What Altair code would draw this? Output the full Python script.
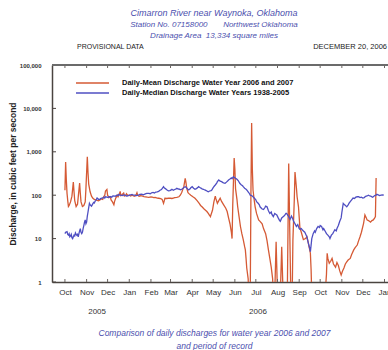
import altair as alt
import pandas as pd

# ---- Daily-mean discharge, water years 2006-2007 (days after 2005-10-01, cfs)
mean_days = [0, 1, 2, 3, 4, 5, 6, 8, 10, 12, 13, 14, 16, 18, 19, 21, 22, 23, 25, 27,
             29, 30, 32, 33, 34, 36, 38, 40, 42, 44, 46, 48, 50, 52, 54, 55, 57, 58, 60, 61,
             63, 65, 66, 68, 70, 71, 73, 75, 76, 78, 79, 80, 82, 84, 85, 87, 88, 90, 92, 94,
             96, 98, 100, 102, 103, 104, 106, 108, 110, 113, 115, 118, 120, 123, 125, 127, 129, 132, 134, 137,
             139, 140, 141, 142, 143, 146, 148, 151, 153, 155, 157, 160, 163, 165, 167, 170, 172, 173, 174, 176,
             177, 180, 183, 186, 189, 192, 194, 196, 199, 201, 203, 205, 207, 208, 209, 211, 213, 215, 216, 218,
             220, 222, 224, 227, 230, 232, 234, 236, 238, 239, 240, 242, 243, 244, 246, 247, 249, 251, 253, 255,
             257, 258, 259, 260, 262, 263, 265, 266, 267, 268, 269, 271, 272, 274, 277, 279, 282, 284, 287, 289,
             291, 293, 295, 297, 298, 300, 302, 304, 308, 310, 312, 318, 320, 322, 323, 325, 326, 328, 329, 331,
             332, 334, 336, 338, 341, 344, 346, 348, 351, 352, 353, 372, 374, 375, 376, 378, 380, 382, 384, 387,
             389, 391, 393, 395, 397, 399, 401, 403, 405, 408, 410, 413, 415, 418, 420, 422, 424, 427, 429, 431,
             432, 434, 437, 439, 441, 443, 444, 445]
mean_cfs = [130, 580, 220, 110, 75, 55, 58, 70, 95, 200, 120, 75, 55, 62, 90, 190, 110, 70, 55, 58,
            70, 140, 770, 330, 180, 120, 95, 85, 80, 78, 76, 74, 78, 82, 80, 90, 100, 125, 135, 100,
            88, 92, 78, 70, 60, 72, 88, 100, 92, 108, 122, 98, 104, 112, 96, 100, 108, 98, 100, 96,
            100, 97, 95, 104, 114, 100, 95, 97, 96, 93, 92, 90, 89, 91, 90, 88, 89, 86, 85, 83,
            80, 72, 65, 74, 85, 84, 86, 85, 84, 86, 88, 89, 92, 100, 115, 157, 245, 200, 150, 115,
            110, 100, 92, 85, 75, 65, 58, 54, 48, 45, 42, 38, 34, 32, 36, 45, 70, 95, 82, 65,
            75, 85, 72, 60, 50, 42, 30, 22, 14, 10, 60, 720, 400, 140, 80, 55, 32, 19, 13, 9.5,
            6.5, 5.5, 3.5, 2.1, 1.2, 0.5, 0.5, 120, 4600, 400, 130, 70, 54, 38, 27, 25, 22, 17, 13, 9,
            5.5, 3.5, 2.2, 1.2, 0.5, 0.5, 8.5, 0.5, 0.5, 6.5, 0.5, 0.5, 540, 5, 0.5, 0.5, 9, 80, 340, 150,
            92, 54, 18, 14, 9.5, 10, 11, 8, 4.6, 2, 0.5, 0.5, 1.5, 4.6, 3.5, 2.7, 3, 3.5, 2.6, 2.2,
            2.8, 2.4, 1.8, 1.45, 1.8, 2.1, 2.6, 2.9, 3.2, 3.5, 4.3, 5.5, 6.2, 7.1, 9, 11, 14, 22, 35, 30,
            27, 26, 24, 26, 27, 30, 32, 250]

# ---- Daily-median discharge, water years 1938-2005 (same day offsets, cfs)
median_days = [0, 1, 3, 4, 5, 6, 7, 8, 9, 10, 11, 12, 13, 14, 15, 16, 17, 18, 19, 20,
               21, 22, 23, 24, 25, 26, 27, 28, 29, 30, 31, 32, 33, 34, 35, 36, 37, 38, 39, 40,
               41, 42, 43, 44, 45, 46, 47, 48, 50, 51, 53, 55, 56, 57, 58, 60, 62, 63, 65, 67,
               68, 70, 72, 74, 76, 77, 79, 82, 84, 86, 88, 90, 92, 94, 96, 98, 100, 102, 105, 107,
               110, 112, 115, 117, 120, 122, 124, 126, 128, 130, 132, 134, 136, 138, 140, 141, 142, 144, 146, 148,
               150, 152, 153, 155, 157, 159, 160, 162, 163, 165, 167, 169, 170, 172, 174, 175, 177, 179, 180, 182,
               184, 186, 188, 190, 191, 193, 195, 196, 198, 200, 202, 204, 205, 207, 209, 210, 212, 214, 215, 217,
               218, 220, 222, 224, 226, 228, 229, 231, 233, 234, 236, 238, 239, 241, 243, 245, 246, 248, 250, 252,
               254, 255, 257, 259, 260, 262, 264, 265, 267, 269, 271, 273, 274, 276, 278, 279, 281, 282, 284, 286,
               287, 289, 291, 293, 295, 296, 298, 300, 302, 303, 305, 307, 308, 310, 312, 314, 316, 317, 319, 321,
               322, 324, 326, 327, 329, 331, 333, 335, 336, 338, 340, 341, 343, 345, 346, 348, 350, 351, 352, 353,
               355, 357, 358, 360, 362, 364, 365, 367, 369, 370, 372, 374, 376, 378, 379, 381, 383, 384, 386, 388,
               389, 391, 393, 395, 396, 398, 400, 402, 403, 405, 407, 408, 410, 412, 414, 416, 418, 420, 422, 424,
               426, 428, 430, 432, 434, 436, 438, 440, 441, 443, 445, 446, 448, 450, 452, 454, 456]
median_cfs = [13, 14, 14.5, 12.5, 12, 13, 11, 11.5, 12.5, 10.5, 10, 11, 12, 11.5, 13.5, 12.5, 12, 12.5, 11, 13,
              15, 17, 14, 13, 14, 17, 20, 24, 27, 22, 24, 33, 41, 52, 65, 60, 58, 56, 60, 64,
              68, 66, 72, 75, 80, 86, 84, 80, 80, 84, 86, 88, 90, 86, 92, 90, 88, 92, 92, 90,
              95, 96, 94, 100, 98, 104, 100, 98, 102, 100, 96, 97, 100, 102, 104, 100, 100, 98, 100, 104,
              105, 102, 107, 110, 110, 108, 114, 116, 112, 118, 120, 123, 130, 135, 150, 157, 148, 140, 132, 126,
              128, 132, 137, 130, 135, 140, 144, 138, 140, 134, 137, 145, 150, 157, 148, 140, 132, 140, 148, 157,
              145, 137, 142, 150, 157, 150, 144, 140, 137, 132, 128, 122, 120, 125, 128, 132, 150, 165, 172, 190,
              205, 224, 210, 205, 195, 190, 188, 200, 215, 224, 235, 250, 240, 267, 250, 240, 233, 215, 188, 175,
              165, 157, 145, 138, 132, 120, 108, 100, 98, 92, 85, 78, 71, 66, 60, 54, 50, 48, 47, 52,
              56, 54, 44, 38, 41, 36, 32, 38, 36, 35, 30, 26, 25, 30, 32, 34, 38, 38, 34, 30,
              28, 33, 28, 25, 22, 19, 21, 17, 16.5, 17, 15.5, 15, 14, 12, 11, 8, 6, 5, 7, 10,
              13, 15, 14, 17, 19, 18, 20, 19, 16, 17, 15, 13, 12, 11, 10, 12, 13, 14, 16, 15,
              17, 20, 25, 30, 40, 65, 60, 56, 54, 60, 68, 71, 78, 86, 84, 90, 92, 92, 88, 90,
              86, 88, 94, 96, 100, 96, 94, 90, 92, 98, 100, 105, 102, 98, 100, 102, 100]

series_names = ["Daily-Mean Discharge Water Year 2006 and 2007",
                "Daily-Median Discharge Water Years 1938-2005"]
series_colors = ["#d55a35", "#4f4fc2"]

y_tick_values = [1, 10, 100, 1000, 10000, 100000]
year_labels = ["2005", "2006"]
year_label_dates = ["2005-11-16", "2006-07-04"]

BLUE_TEXT = "#4b4fae"
W, H = 336, 217
start = pd.Timestamp("2005-10-01")

mean_df = pd.DataFrame({
    "date": start + pd.to_timedelta(mean_days, unit="D"),
    "cfs": mean_cfs,
    "series": series_names[0],
})
median_df = pd.DataFrame({
    "date": start + pd.to_timedelta(median_days, unit="D"),
    "cfs": median_cfs,
    "series": series_names[1],
})
ticks_df = pd.DataFrame({"v": y_tick_values})
month_ticks_df = pd.DataFrame({"date": pd.date_range("2005-10-01", "2007-01-01", freq="MS")})
years_df = pd.DataFrame({"date": pd.to_datetime(year_label_dates), "label": year_labels})

x_scale = alt.Scale(domain=[alt.DateTime(year=2005, month=9, date=12, hours=12),
                            alt.DateTime(year=2007, month=1, date=6)])
y_scale = alt.Scale(type="log", domain=[1, 100000])
color_scale = alt.Scale(domain=series_names, range=series_colors)

x_axis = alt.Axis(
    format="%b", tickCount={"interval": "month", "step": 1}, ticks=False, grid=False,
    labelFontSize=8, labelColor="#333333", labelPadding=6, labelOverlap=False,
    labelFlush=False, labelBound=False,
    domainColor="#4a4440", domainWidth=1.5,
    title=["Comparison of daily discharges for water year 2006 and 2007", "and period of record"],
    titleFontSize=8.5, titleFontStyle="italic", titleFontWeight="normal", titleColor=BLUE_TEXT,
    titleLineHeight=13, titleBaseline="top", titleY=46, titleX=W / 2 - 6,
)
y_axis = alt.Axis(
    values=y_tick_values, format=",", ticks=False, grid=False,
    labelFontSize=6, labelFontWeight="bold", labelColor="#333333", labelPadding=11,
    domainColor="#4a4440", domainWidth=1.5,
    title="Discharge, in cubic feet per second",
    titleFontSize=8.5, titleFontWeight="bold", titleColor="#222222",
    titleAngle=270, titleAlign="center", titleBaseline="middle", titleX=-40, titleY=H / 2,
)
# Stroke symbol drawn as a long custom path while keeping a compact row height
legend = alt.Legend(
    title=None, orient="none", legendX=34, legendY=11.5, padding=0,
    symbolType="M-3,0H3", symbolSize=121, symbolStrokeWidth=1.6,
    labelFontSize=7.5, labelFontWeight="bold", labelColor="#111111", labelOffset=23,
    labelLimit=0, rowPadding=0,
)

mean_line = alt.Chart(mean_df).mark_line(strokeWidth=1.3, clip=True).encode(
    x=alt.X("date:T", scale=x_scale, axis=x_axis),
    y=alt.Y("cfs:Q", scale=y_scale, axis=y_axis),
    color=alt.Color("series:N", scale=color_scale, legend=legend),
)
median_line = alt.Chart(median_df).mark_line(strokeWidth=1.3, clip=True).encode(
    x="date:T",
    y="cfs:Q",
    color=alt.Color("series:N", scale=color_scale, legend=legend),
)

# inward tick marks on the value axis
y_ticks = alt.Chart(ticks_df).mark_rule(color="#4a4440", strokeWidth=1).encode(
    y="v:Q", x=alt.value(0), x2=alt.value(4)
)
# inward month ticks along the bottom and top edges
bottom_ticks = alt.Chart(month_ticks_df).mark_rule(color="#6a6460", strokeWidth=1).encode(
    x="date:T", y=alt.value(H), y2=alt.value(H - 3)
)
top_ticks = alt.Chart(month_ticks_df).mark_rule(color="#6a6460", strokeWidth=1).encode(
    x="date:T", y=alt.value(0), y2=alt.value(3)
)
top_border = alt.Chart(ticks_df).mark_rule(color="#6b6b6b", strokeWidth=2).encode(
    x=alt.value(0), x2=alt.value(W), y=alt.value(0)
)

year_text = alt.Chart(years_df).mark_text(
    fontSize=8, color="#333333", baseline="middle", align="center"
).encode(x="date:T", y=alt.value(H + 30), text="label:N")

provisional = alt.Chart(ticks_df.head(1)).mark_text(
    text="PROVISIONAL DATA", fontSize=7, color="#222222", align="left", baseline="middle"
).encode(x=alt.value(25), y=alt.value(-18))
date_stamp = alt.Chart(ticks_df.head(1)).mark_text(
    text="DECEMBER 20, 2006", fontSize=7.5, color="#222222", align="right", baseline="middle"
).encode(x=alt.value(335), y=alt.value(-18))

chart = alt.layer(
    mean_line, median_line, y_ticks, bottom_ticks, top_ticks, top_border,
    year_text, provisional, date_stamp,
).properties(
    width=W, height=H,
    autosize=alt.AutoSizeParams(type="none"),
    padding={"left": 52, "top": 65, "right": 0, "bottom": 68},
    title=alt.TitleParams(
        text="Cimarron River near Waynoka, Oklahoma",
        subtitle=["Station No. 07158000\u00a0\u00a0\u00a0\u00a0\u00a0\u00a0\u00a0Northwest Oklahoma",
                  "Drainage Area\u00a0\u00a013,334 square miles"],
        anchor="middle", frame="group", dx=-6, offset=3,
        fontSize=9, fontStyle="italic", fontWeight="normal", color=BLUE_TEXT,
        subtitleFontSize=8, subtitleFontStyle="italic", subtitleColor=BLUE_TEXT,
        subtitleLineHeight=11, subtitlePadding=3,
    ),
).configure(
    font="Liberation Sans",
).configure_view(
    stroke=None,
).resolve_scale(color="shared")

chart.save("out.html", embed_options={"renderer": "svg", "actions": False})
